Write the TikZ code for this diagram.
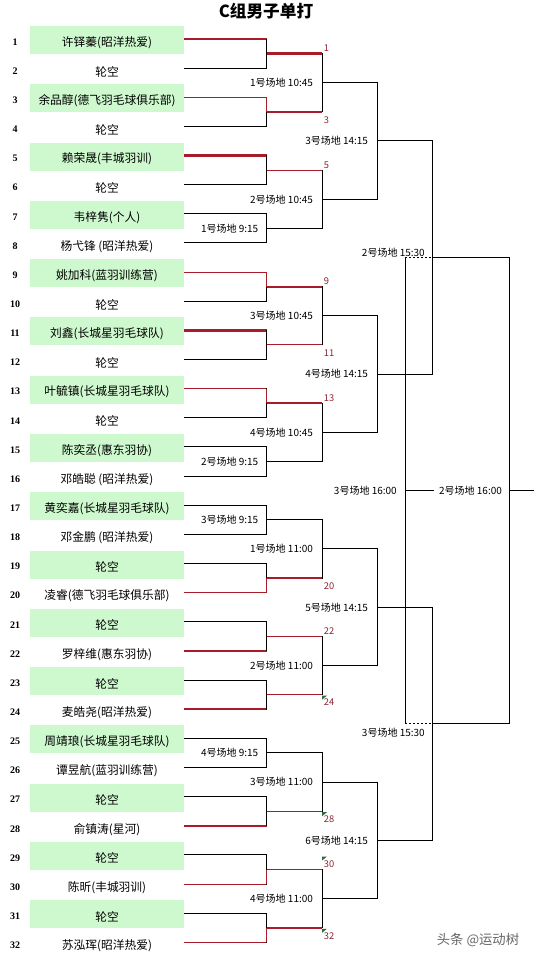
\documentclass[tikz,border=0pt]{standalone}
\usepackage{fontspec}
\setmainfont{Noto Sans CJK SC}
\newfontfamily\numfont{Liberation Serif}
\usetikzlibrary{positioning}
\definecolor{cellgreen}{RGB}{206,248,206}
\definecolor{winred}{RGB}{168,28,42}
\definecolor{seedred}{RGB}{140,35,50}
\definecolor{notegreen}{RGB}{50,105,60}

\begin{document}
\begin{tikzpicture}[x=0.75pt,y=-0.75pt,
  plain/.style={draw=black,line width=0.75pt,line cap=rect},
  wn/.style={draw=winred,line width=1.7pt},
  tn/.style={draw=winred,line width=0.75pt},
  nm/.style={font=\fontsize{8.8}{10}\selectfont,inner sep=0pt},
  num/.style={font=\numfont\bfseries\fontsize{7.5}{9}\selectfont,inner sep=0pt},
  slot/.style={font=\fontsize{7.5}{9}\selectfont,inner sep=0pt,anchor=east},
  seed/.style={font=\fontsize{7}{8}\selectfont,text=seedred,inner sep=0pt}]
\fill[white] (0,0) rectangle (533,960);
\useasboundingbox (0,0) rectangle (533,960);
\node[font=\bfseries\fontsize{12.5}{14}\selectfont] (title) at (266,11) {C组男子单打};
% 32 签位: 行线 y = 39 + (k-1)*29.14
\foreach \k/\nm/\st in {1/许铎蓁(昭洋热爱)/wn,2/轮空/plain,3/余品醇(德飞羽毛球俱乐部)/tn,4/轮空/plain,
  5/赖荣晟(丰城羽训)/wn,6/轮空/plain,7/韦梓隽(个人)/plain,8/杨弋锋 (昭洋热爱)/plain,
  9/姚加科(蓝羽训练营)/tn,10/轮空/plain,11/刘鑫(长城星羽毛球队)/wn,12/轮空/plain,
  13/叶毓镇(长城星羽毛球队)/tn,14/轮空/plain,15/陈奕丞(惠东羽协)/plain,16/邓皓聪 (昭洋热爱)/plain,
  17/黄奕嘉(长城星羽毛球队)/plain,18/邓金鹏 (昭洋热爱)/plain,19/轮空/plain,20/凌睿(德飞羽毛球俱乐部)/tn,
  21/轮空/plain,22/罗梓维(惠东羽协)/wn,23/轮空/plain,24/麦皓尧(昭洋热爱)/wn,
  25/周靖琅(长城星羽毛球队)/plain,26/谭昱航(蓝羽训练营)/plain,27/轮空/plain,28/俞镇涛(星河)/wn,
  29/轮空/plain,30/陈昕(丰城羽训)/tn,31/轮空/plain,32/苏泓珲(昭洋热爱)/tn}{
  \pgfmathsetmacro\yy{39+(\k-1)*29.14}
  \pgfmathtruncatemacro\odd{mod(\k,2)}
  \ifnum\odd=1 \fill[cellgreen] (30,\yy-13) rectangle (184,\yy+15); \fi
  \node[num] (n\k) at (15,\yy+3) {\k};
  \node[nm] (p\k) at (107,\yy+3.5) {\nm};
  \coordinate (s\k) at (184,\yy);
  \coordinate (r\k) at (266.5,\yy);
  \draw[\st] (s\k) -- (r\k);
}
% 第一轮
\foreach \m/\st in {1/wn,2/wn,3/tn,4/plain,5/wn,6/tn,7/wn,8/plain,
  9/plain,10/wn,11/tn,12/tn,13/plain,14/tn,15/tn,16/wn}{
  \pgfmathsetmacro\yy{39+(2*\m-1.5)*29.14}
  \pgfmathtruncatemacro\ka{2*\m-1}
  \pgfmathtruncatemacro\kb{2*\m}
  \coordinate (a\m) at (266.5,\yy);
  \coordinate (b\m) at (322,\yy);
  \draw[plain] (r\ka) -- (r\kb);
  \draw[\st] (a\m) -- (b\m);
}
\foreach \k/\m in {3/2,9/5,13/7,20/10,30/15,32/16} \draw[tn] (r\k) -- (a\m);
\foreach \m/\lab in {4/1号场地 9:15,8/2号场地 9:15,9/3号场地 9:15,13/4号场地 9:15}
  \node[slot,left=6pt of a\m] (l1\m) {\lab};
% 晋级签号
\foreach \m/\s in {1/1,3/5,5/9,7/13,11/22,15/30}
  \node[seed,above right=1pt and 1.2pt of b\m] (sd\m) {\s};
\foreach \m/\s in {2/3,6/11,10/20,12/24,14/28,16/32}
  \node[seed,below right=3.2pt and 1.2pt of b\m] (sd\m) {\s};
% 批注三角
\foreach \m in {12,14,16} \fill[notegreen] (b\m) ++(0,1) -- ++(5,0) -- ++(-5,4) -- cycle;
\fill[notegreen] (b15) ++(0,-13) -- ++(5,0) -- ++(-5,4) -- cycle;
% 第二轮
\foreach \n/\lab in {1/1号场地 10:45,2/2号场地 10:45,3/3号场地 10:45,4/4号场地 10:45,
  5/1号场地 11:00,6/2号场地 11:00,7/3号场地 11:00,8/4号场地 11:00}{
  \pgfmathsetmacro\yy{39+(4*\n-2.5)*29.14}
  \pgfmathtruncatemacro\ma{2*\n-1}
  \pgfmathtruncatemacro\mb{2*\n}
  \coordinate (c\n) at (322,\yy);
  \coordinate (d\n) at (377.5,\yy);
  \draw[plain] (b\ma) -- (b\mb);
  \draw[plain] (c\n) -- (d\n);
  \node[slot,left=6.6pt of c\n] (l2\n) {\lab};
}
% 第三轮
\foreach \p/\lab in {1/3号场地 14:15,2/4号场地 14:15,3/5号场地 14:15,4/6号场地 14:15}{
  \pgfmathsetmacro\yy{39+(8*\p-4.5)*29.14}
  \pgfmathtruncatemacro\na{2*\p-1}
  \pgfmathtruncatemacro\nb{2*\p}
  \coordinate (e\p) at (377.5,\yy);
  \coordinate (f\p) at (432.5,\yy);
  \draw[plain] (d\na) -- (d\nb);
  \draw[plain] (e\p) -- (f\p);
  \node[slot,left=6.9pt of e\p] (l3\p) {\lab};
}
% 半决赛
\foreach \q in {1,2}{
  \pgfmathsetmacro\yy{39+(16*\q-8.5)*29.14}
  \pgfmathtruncatemacro\pa{2*\q-1}
  \pgfmathtruncatemacro\pb{2*\q}
  \coordinate (g\q) at (432.5,\yy);
  \coordinate (h\q) at (405,\yy);
  \coordinate (k\q) at (509.5,\yy);
  \draw[plain] (f\pa) -- (f\pb);
  \draw[plain,line cap=butt,dash pattern=on 1.5pt off 1.5pt] (h\q) -- (g\q);
  \draw[plain] (g\q) -- (k\q);
}
\node[slot] (l41) at (425,252.5) {2号场地 15:30};
\node[slot] (l42) at (425,733) {3号场地 15:30};
% 三四名 / 决赛
\coordinate (t1) at (405,490.7);
\coordinate (t2) at (433,490.7);
\coordinate (fa) at (509.5,490.7);
\coordinate (fb) at (533,490.7);
\draw[plain] (h1) -- (h2);
\draw[plain] (t1) -- (t2);
\draw[plain] (k1) -- (k2);
\draw[plain] (fa) -- (fb);
\node[slot,left=6pt of t1] (l5) {3号场地 16:00};
\node[slot,left=5.5pt of fa] (l6) {2号场地 16:00};
\node[font=\fontsize{10}{12}\selectfont,text=black!60] (wm) at (478,940) {头条 @运动树};
\end{tikzpicture}
\end{document}
